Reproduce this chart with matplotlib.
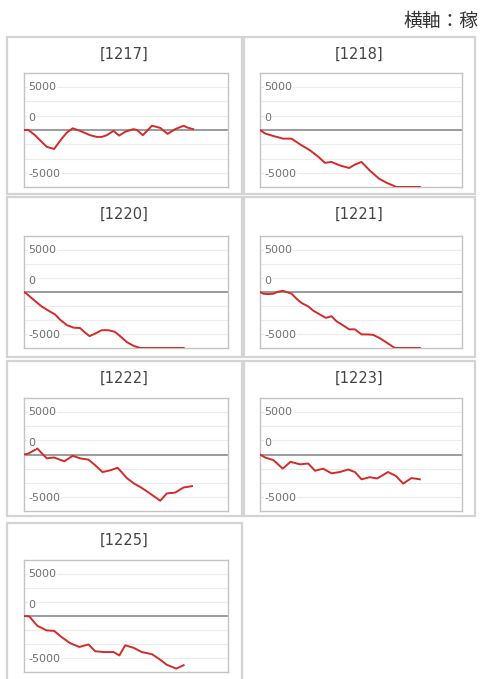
import matplotlib
matplotlib.use("Agg")
from matplotlib import pyplot as plt
from matplotlib.patches import Rectangle

plt.rcParams['font.family'] = ['DejaVu Sans', 'Noto Sans CJK JP']

# games played (x) and balance (y) for each machine
titles = ["[1217]", "[1218]", "[1220]", "[1221]", "[1222]", "[1223]", "[1225]"]

g1217 = [0, 170, 430, 890, 1180, 1480, 1680, 1910, 2200, 2590, 2850, 3050, 3250,
         3510, 3730, 3970, 4290, 4430, 4660, 5020, 5340, 5630, 5930, 6260, 6390, 6630]
v1217 = [0, 0, -600, -1950, -2200, -1000, -300, 200, -100, -600, -800, -800, -600,
         -100, -650, -200, 100, 0, -600, 500, 250, -450, 100, 500, 300, 100]

g1218 = [0, 200, 530, 920, 1250, 1580, 1980, 2310, 2570, 2830, 3160, 3530, 3760,
         4020, 4350, 4720, 5010, 5400, 6330]
v1218 = [0, -400, -700, -1000, -1000, -1650, -2350, -3100, -3800, -3700, -4100, -4400,
         -4000, -3700, -4700, -5650, -6100, -6600, -6600]

g1220 = [0, 100, 370, 690, 960, 1220, 1410, 1680, 1940, 2200, 2400, 2570, 2790,
         3050, 3310, 3570, 3770, 4030, 4300, 4560, 6260]
v1220 = [0, -200, -900, -1700, -2200, -2650, -3250, -3900, -4200, -4250, -4800, -5200,
         -4900, -4500, -4500, -4700, -5200, -5900, -6350, -6600, -6600]

g1221 = [0, 130, 330, 530, 690, 900, 1050, 1250, 1450, 1650, 1910, 2110, 2370,
         2610, 2830, 3030, 3300, 3530, 3760, 4020, 4280, 4480, 4750, 5010, 5340, 6330]
v1221 = [0, -200, -250, -200, 0, 150, 0, -200, -800, -1300, -1700, -2200, -2650,
         -3050, -2850, -3450, -3950, -4400, -4400, -5000, -5000, -5050, -5450, -5950,
         -6600, -6600]

g1222 = [0, 170, 520, 890, 1180, 1580, 1910, 2200, 2530, 2790, 3080, 3380, 3670,
         3840, 4030, 4320, 4560, 4820, 5080, 5340, 5600, 5930, 6260, 6590]
v1222 = [0, 100, 700, -450, -350, -800, -150, -450, -600, -1250, -2050, -1850, -1550,
         -2100, -2750, -3400, -3800, -4300, -4850, -5400, -4550, -4450, -3850, -3700]

g1223 = [0, 200, 530, 900, 1210, 1580, 1910, 2180, 2500, 2830, 3160, 3490, 3760,
         4020, 4350, 4640, 5070, 5380, 5670, 6000, 6330]
v1223 = [0, -350, -650, -1650, -850, -1150, -1050, -1900, -1650, -2200, -2050, -1750,
         -2050, -2900, -2650, -2800, -2050, -2500, -3400, -2750, -2900]

g1225 = [0, 210, 520, 890, 1180, 1480, 1810, 2170, 2530, 2790, 3120, 3510, 3740,
         3970, 4300, 4620, 5020, 5340, 5600, 5970, 6260]
v1225 = [0, -50, -1150, -1700, -1750, -2500, -3200, -3650, -3350, -4150, -4250, -4250,
         -4650, -3450, -3750, -4250, -4500, -5150, -5750, -6200, -5800]

games = [g1217, g1218, g1220, g1221, g1222, g1223, g1225]
values = [v1217, v1218, v1220, v1221, v1222, v1223, v1225]

W, H = 480, 679

# panel boxes and plot areas in pixels (left, right) / (top, bottom)
col_box = [(7, 242), (244, 475)]
row_box = [(37, 194), (197, 357), (361, 516), (523, 690)]
col_plot = [(24, 228), (260, 462)]
row_plot = [(73, 187), (236, 348), (398, 511), (560, 672)]

YMAX = 6600
XMAX = 8000


def px_rect(x0, x1, y0, y1):
    """Convert a pixel box into figure coordinates [left, bottom, width, height]."""
    return [x0 / W, 1 - y1 / H, (x1 - x0) / W, (y1 - y0) / H]


fig = plt.figure(figsize=(W / 100, H / 100), dpi=100)

# the header is cut at the right edge in the original, only its start is visible
fig.text(479 / W, 1 - 21 / H, "横軸：稼", ha="right", va="center",
         fontsize=13.5, color="#333333", family=["Noto Sans CJK JP", "DejaVu Sans"])

for i, title in enumerate(titles):
    r, c = divmod(i, 2)
    bx0, bx1 = col_box[c]
    by0, by1 = row_box[r]
    box = Rectangle((bx0 / W, 1 - by1 / H), (bx1 - bx0) / W, (by1 - by0) / H,
                    transform=fig.transFigure, fill=False, edgecolor="#d4d4d4",
                    linewidth=1.6, clip_on=False)
    fig.patches.append(box)
    fig.text((bx0 + bx1) / 2 / W, 1 - (by0 + 17) / H, title, ha="center", va="center",
             fontsize=10.5, color="#444444")

    px0, px1 = col_plot[c]
    py0, py1 = row_plot[r]
    ax = fig.add_axes(px_rect(px0, px1, py0, py1))
    ax.set_xlim(0, XMAX)
    ax.set_ylim(-YMAX, YMAX)

    for k in (-3, -2, -1, 1, 2, 3):
        ax.axhline(k * 5000 / 3, color="#ececec", linewidth=0.8, zorder=1)
    ax.axhline(0, color="#808080", linewidth=1.1, zorder=2)

    ax.plot(games[i], values[i], color="#d32a2a", linewidth=1.4, zorder=3)

    lab = dict(ha="left", va="center", fontsize=8, color="#707070", zorder=4,
               bbox=dict(facecolor="white", edgecolor="none", pad=0.5))
    ax.text(0.022, 5000, "5000", transform=ax.get_yaxis_transform(), **lab)
    ax.text(0.022, 1350, "0", transform=ax.get_yaxis_transform(), **lab)
    ax.text(0.022, -5100, "-5000", transform=ax.get_yaxis_transform(), **lab)

    ax.set_xticks([])
    ax.set_yticks([])
    for s in ax.spines.values():
        s.set_color("#c4c4c4")
        s.set_linewidth(1.0)

fig.savefig("out.png", dpi=100)
